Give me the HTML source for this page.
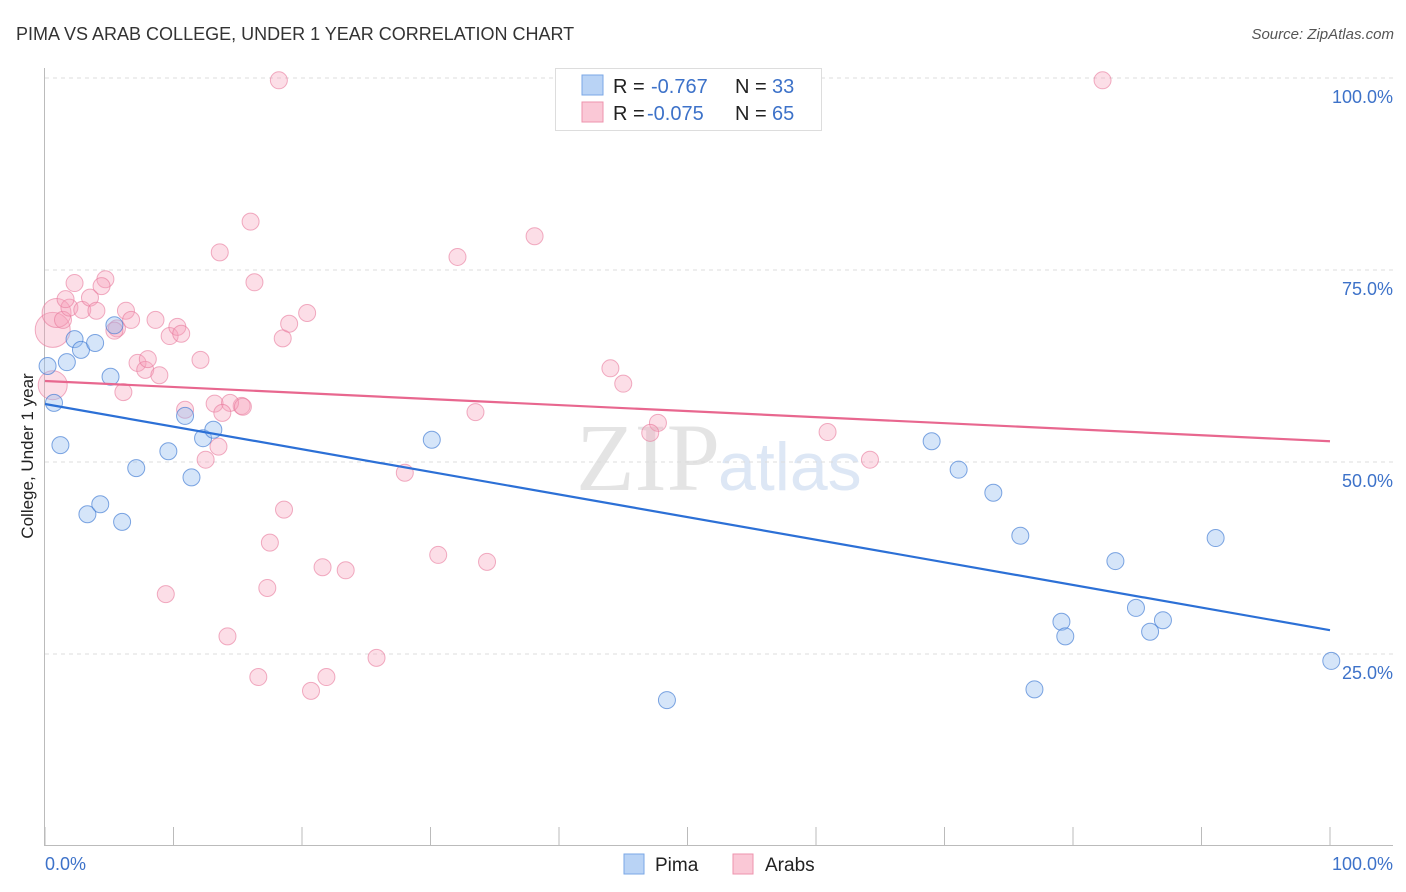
<!DOCTYPE html>
<html><head><meta charset="utf-8"><style>
body{margin:0;background:#fff;font-family:"Liberation Sans",sans-serif;}
svg{display:block}
</style></head><body>
<svg id="chart" width="1406" height="892" viewBox="0 0 1406 892">
<text x="16" y="40" font-size="18" fill="#333">PIMA VS ARAB COLLEGE, UNDER 1 YEAR CORRELATION CHART</text>
<text x="1394" y="39" font-size="15" fill="#555" font-style="italic" text-anchor="end">Source: ZipAtlas.com</text>
<text x="720" y="490" font-size="96" fill="#e4e4e4" text-anchor="end" font-family="Liberation Serif,serif">ZIP</text>
<text x="718" y="490" font-size="68" fill="#dde7f5">atlas</text>
<g id="grid"></g><g id="axes"></g><g id="pts"></g><g id="lines"></g>
<text x="33" y="456" font-size="17" fill="#222" text-anchor="middle" transform="rotate(-90 33 456)">College, Under 1 year</text>
<text x="45" y="870" font-size="18" fill="#3d72c9">0.0%</text>
<text x="1393" y="870" font-size="18" fill="#3d72c9" text-anchor="end">100.0%</text>
<g>
<rect x="555.5" y="68.5" width="266" height="62" fill="#fff" stroke="#ddd"/>
<rect x="582" y="75" width="21" height="20" fill="#b9d3f5" stroke="#7aa7e6"/>
<rect x="582" y="102" width="21" height="20" fill="#fac8d6" stroke="#ee93ad"/>
<text x="613" y="93" font-size="20" fill="#222">R = </text><text x="651" y="93" font-size="20" fill="#3d72c9">-0.767</text>
<text x="735" y="93" font-size="20" fill="#222">N = </text><text x="772" y="93" font-size="20" fill="#3d72c9">33</text>
<text x="613" y="120" font-size="20" fill="#222">R = </text><text x="647" y="120" font-size="20" fill="#3d72c9">-0.075</text>
<text x="735" y="120" font-size="20" fill="#222">N = </text><text x="772" y="120" font-size="20" fill="#3d72c9">65</text>
</g>
<g>
<rect x="624" y="854" width="20" height="20" fill="#b9d3f5" stroke="#7aa7e6"/>
<text x="655" y="871" font-size="19" fill="#222">Pima</text>
<rect x="733" y="854" width="20" height="20" fill="#fac8d6" stroke="#ee93ad"/>
<text x="765" y="871" font-size="19" fill="#222">Arabs</text>
</g>
</svg>
<script>
const yTicks=[25,50,75,100];
const yTickLabels=["25.0%","50.0%","75.0%","100.0%"];
const xTicks=[0,10,20,30,40,50,60,70,80,90,100];
const pimaX=[0.2,0.7,1.2,1.7,2.3,2.8,3.9,5.1,5.4,3.3,4.3,6.0,7.1,9.6,10.9,11.4,12.3,13.1,30.1,48.4,69.0,71.1,73.8,75.9,79.1,79.4,77.0,83.3,84.9,86.0,87.0,91.1,100.1];
const pimaY=[62.5,57.7,52.2,63.0,66.0,64.6,65.5,61.1,67.8,43.2,44.5,42.2,49.2,51.4,56.0,48.0,53.1,54.2,52.9,19.0,52.7,49.0,46.0,40.4,29.2,27.3,20.4,37.1,31.0,27.9,29.4,40.1,24.1];
const arabX=[0.6,0.9,0.6,1.4,1.9,2.3,2.9,3.5,4.0,4.7,4.4,5.6,5.4,6.3,6.7,7.2,7.8,8.0,6.1,8.6,8.9,9.7,10.3,10.6,12.1,10.9,13.6,16.0,16.3,18.5,19.0,20.4,13.5,12.5,13.2,15.3,14.4,15.4,13.8,18.2,82.3,32.1,38.1,44.0,45.0,33.5,47.7,47.1,60.9,64.2,28.0,30.6,34.4,18.6,17.5,21.6,23.4,17.3,9.4,14.2,16.6,20.7,21.9,25.8,1.6];
const arabY=[67.2,69.4,60.0,68.5,70.1,73.3,69.8,71.4,69.7,73.8,72.9,67.4,67.1,69.7,68.5,62.9,62.0,63.4,59.1,68.5,61.3,66.4,67.6,66.7,63.3,56.8,77.3,81.3,73.4,66.1,68.0,69.4,52.0,50.3,57.6,57.3,57.7,57.2,56.4,99.7,99.7,76.7,79.4,62.2,60.2,56.5,55.1,53.8,53.9,50.3,48.6,37.9,37.0,43.8,39.5,36.3,35.9,33.6,32.8,27.3,22.0,20.2,22.0,24.5,71.2];
const arabW=[4,3,3,1,1,1,1,1,1,1,1,1,1,1,1,1,1,1,1,1,1,1,1,1,1,1,1,1,1,1,1,1,1,1,1,1,1,1,1,1,1,1,1,1,1,1,1,1,1,1,1,1,1,1,1,1,1,1,1,1,1,1,1,1,1];
const pimaTrend=[57.55,28.1];
const arabTrend=[60.55,52.7];
const NS="http://www.w3.org/2000/svg";
const X=v=>45+v*12.85, Y=v=>846-v*7.68;
function mk(t,a,p){const e=document.createElementNS(NS,t);for(const k in a)e.setAttribute(k,a[k]);p.appendChild(e);return e;}
const grid=document.getElementById('grid'),axes=document.getElementById('axes'),pts=document.getElementById('pts'),lines=document.getElementById('lines');
yTicks.forEach((t,i)=>{
 const l=mk('line',{x1:45,x2:1393,y1:Y(t),y2:Y(t),stroke:'#ddd','stroke-dasharray':'4,4'},grid);
 
 
 const tx=mk('text',{x:1393,y:Y(t)+25,'font-size':18,fill:'#3d72c9','text-anchor':'end'},grid);
 tx.textContent=yTickLabels[i];
 
 
});
const ya=mk('line',{x1:44.5,x2:44.5,y1:68,y2:846,stroke:'#bbb'},axes);


const xa=mk('line',{x1:44,x2:1393,y1:845.5,y2:845.5,stroke:'#bbb'},axes);


xTicks.forEach(t=>{
 const l=mk('line',{x1:X(t),x2:X(t),y1:827,y2:846,stroke:'#bbb'},axes);
 
 
});
arabX.forEach((v,i)=>{
 const c=mk('circle',{cx:X(v),cy:Y(arabY[i]),r:8.5+ (arabW[i]-1)*3,fill:'rgba(246,160,186,0.35)',stroke:'rgba(232,120,155,0.6)','stroke-width':1},pts);
 
 
});
pimaX.forEach((v,i)=>{
 const c=mk('circle',{cx:X(v),cy:Y(pimaY[i]),r:8.5,fill:'rgba(150,190,240,0.4)',stroke:'rgba(60,120,210,0.65)','stroke-width':1},pts);
 
 
});
const pl=mk('line',{x1:X(0),x2:X(100),y1:Y(arabTrend[0]),y2:Y(arabTrend[1]),stroke:'#e8678f','stroke-width':2.2},lines);


const bl=mk('line',{x1:X(0),x2:X(100),y1:Y(pimaTrend[0]),y2:Y(pimaTrend[1]),stroke:'#2c70d6','stroke-width':2.2},lines);


</script>
</body></html>
